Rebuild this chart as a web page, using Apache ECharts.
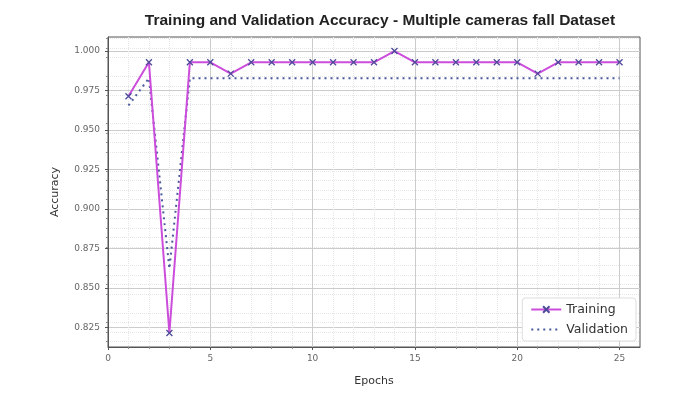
<!DOCTYPE html>
<html>
<head>
    <meta charset="utf-8">
    <title>Training and Validation Accuracy</title>
    <script src="https://cdn.jsdelivr.net/npm/echarts@6/dist/echarts.min.js"></script>
</head>
<body style="margin:0">
<div id="main" style="width: 677px;height:393px;"></div>
<script type="text/javascript">

    /* data ================================ */
    var epochs = [1, 2, 3, 4, 5, 6, 7, 8, 9, 10, 11, 12, 13, 14, 15, 16, 17, 18, 19, 20, 21, 22, 23, 24, 25];
    var trainAcc = [0.9714, 0.9929, 0.8214, 0.9929, 0.9929, 0.9857, 0.9929, 0.9929, 0.9929, 0.9929,
        0.9929, 0.9929, 0.9929, 1.0, 0.9929, 0.9929, 0.9929, 0.9929, 0.9929, 0.9929,
        0.9857, 0.9929, 0.9929, 0.9929, 0.9929];
    var valAcc = [0.9655, 0.9828, 0.8621, 0.9828, 0.9828, 0.9828, 0.9828, 0.9828, 0.9828, 0.9828,
        0.9828, 0.9828, 0.9828, 0.9828, 0.9828, 0.9828, 0.9828, 0.9828, 0.9828, 0.9828,
        0.9828, 0.9828, 0.9828, 0.9828, 0.9828];
    var yTicks = [0.825, 0.85, 0.875, 0.9, 0.925, 0.95, 0.975, 1.0];
    var xTicks = [0, 5, 10, 15, 20, 25];

    function pairs(xs, ys) {
        return xs.map(function (x, i) { return [x, ys[i]]; });
    }

    var myChart = echarts.init(document.getElementById('main'));

    var crossMark = 'path://M0,0L10,10M10,0L0,10';

    myChart.setOption({
        title: {
            text: 'Training and Validation Accuracy - Multiple cameras fall Dataset',
            left: 375,
            textAlign: 'center',
            top: 8,
            textStyle: {fontSize: 15.5, fontWeight: 'bold', color: '#222', fontFamily: 'Liberation Sans'}
        },
        grid: {
            left: 108, right: 37, top: 37, bottom: 46,
            show: true, borderColor: '#555', borderWidth: 1
        },
        legend: {
            right: 41, bottom: 52,
            orient: 'vertical',
            itemWidth: 30, itemHeight: 8, itemGap: 7,
            backgroundColor: '#fff', borderColor: '#ddd', borderWidth: 1, borderRadius: 3,
            padding: [5, 8, 5, 8],
            textStyle: {fontSize: 12.5, color: '#333', fontFamily: 'DejaVu Sans'},
            data: ['Training', {name: 'Validation', itemStyle: {opacity: 0}}]
        },
        xAxis: {
            type: 'value',
            min: 0, max: 26,
            name: 'Epochs',
            nameLocation: 'middle', nameGap: 29,
            nameTextStyle: {fontSize: 11, color: '#333', fontFamily: 'DejaVu Sans'},
            axisLine: {show: true, lineStyle: {color: '#555'}},
            axisTick: {show: true, length: 3, customValues: xTicks, lineStyle: {color: '#555'}},
            axisLabel: {customValues: xTicks, fontSize: 9, color: '#666', fontFamily: 'DejaVu Sans', margin: 7},
            splitLine: {show: true, lineStyle: {color: '#ccc', width: 1}},
            minorTick: {show: true, splitNumber: 5, length: 2, lineStyle: {color: '#888'}},
            minorSplitLine: {show: true, lineStyle: {color: '#e6e6e6', type: 'dotted'}}
        },
        yAxis: {
            type: 'value',
            min: 0.8125, max: 1.0089,
            name: 'Accuracy',
            nameLocation: 'middle', nameGap: 47,
            nameTextStyle: {fontSize: 11, color: '#333', fontFamily: 'DejaVu Sans'},
            axisLine: {show: true, lineStyle: {color: '#555'}},
            axisTick: {show: true, length: 3, customValues: yTicks, lineStyle: {color: '#555'}},
            axisLabel: {
                customValues: yTicks, fontSize: 9, color: '#666', fontFamily: 'DejaVu Sans', margin: 8,
                formatter: function (v) { return v.toFixed(3); }
            },
            splitLine: {show: true, lineStyle: {color: '#ccc', width: 1}},
            minorTick: {show: true, splitNumber: 5, length: 2, lineStyle: {color: '#888'}},
            minorSplitLine: {show: true, lineStyle: {color: '#e6e6e6', type: 'dotted'}}
        },
        series: [
            {
                name: 'Training',
                type: 'line',
                data: pairs(epochs, trainAcc),
                symbol: crossMark,
                symbolSize: 6,
                showSymbol: true,
                lineStyle: {color: '#cc4ddc', width: 2},
                itemStyle: {color: '#cc4ddc', borderColor: '#4e4a9a', borderWidth: 1.3},
                z: 3
            },
            {
                name: 'Validation',
                type: 'line',
                data: pairs(epochs, valAcc),
                symbol: 'none',
                lineStyle: {color: '#4a5a9c', width: 2, type: [2, 4]},
                itemStyle: {color: '#4a5a9c'},
                z: 2
            }
        ]
    });

</script>
</body>
</html>
